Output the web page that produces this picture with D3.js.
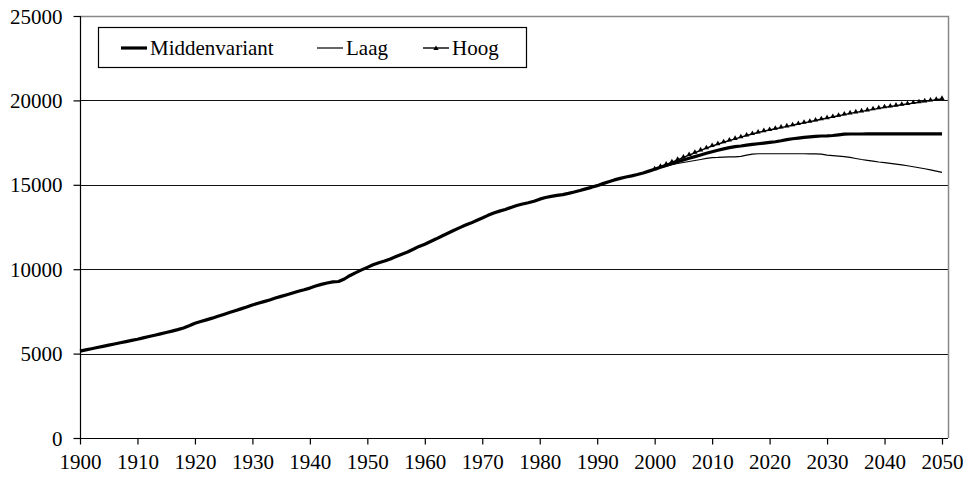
<!DOCTYPE html>
<html>
<head>
<meta charset="utf-8">
<script src="https://cdn.jsdelivr.net/npm/d3@7"></script>
<style>
  body { margin: 0; background: #fff; }
</style>
</head>
<body>
<svg id="chart"></svg>
<script>
// bevolking (x 1000), 1900-2050
const years = d3.range(1900, 2051)

const midden = [
  5150, 5220, 5290, 5360, 5430, 5500, 5570, 5640, 5710, 5780,
  5850, 5930, 6010, 6090, 6170, 6250, 6330, 6420, 6520, 6650,
  6800, 6900, 7000, 7100, 7210, 7320, 7430, 7540, 7650, 7760,
  7880, 7980, 8080, 8180, 8290, 8390, 8490, 8590, 8690, 8780,
  8880, 9000, 9100, 9180, 9250, 9270, 9420, 9630, 9800, 9960,
  10110, 10260, 10380, 10490, 10610, 10750, 10890, 11020, 11180, 11350,
  11480, 11640, 11800, 11970, 12130, 12290, 12450, 12600, 12730, 12880,
  13030, 13190, 13330, 13440, 13540, 13660, 13770, 13860, 13940, 14030,
  14150, 14250, 14310, 14370, 14420, 14490, 14570, 14660, 14760, 14850,
  14950, 15070, 15180, 15290, 15380, 15460, 15530, 15610, 15700, 15810,
  15920, 16040, 16150, 16260, 16370, 16470, 16570, 16670, 16770, 16870,
  16960, 17050, 17130, 17200, 17260, 17300, 17350, 17390, 17430, 17470,
  17510, 17550, 17610, 17680, 17730, 17770, 17810, 17840, 17870, 17890,
  17900, 17920, 17960, 18000, 18010, 18010, 18010, 18020, 18020, 18020,
  18020, 18020, 18020, 18020, 18020, 18020, 18020, 18020, 18020, 18020,
  18020
]

// varianten vanaf 2000
const laag = [
  15920, 16020, 16110, 16190, 16260, 16320, 16380, 16440, 16500, 16560,
  16610, 16620, 16640, 16650, 16660, 16680, 16760, 16820, 16840, 16840,
  16840, 16840, 16840, 16840, 16840, 16840, 16840, 16830, 16830, 16820,
  16760, 16730, 16700, 16670, 16620, 16560, 16500, 16450, 16400, 16350,
  16310, 16270, 16230, 16180, 16130, 16070, 16010, 15950, 15880, 15810,
  15740
]

const hoog = [
  15920, 16060, 16200, 16340, 16480, 16620, 16760, 16900, 17040, 17170,
  17300, 17410, 17520, 17620, 17720, 17820, 17920, 18010, 18100, 18180,
  18250, 18320, 18390, 18460, 18530, 18600, 18670, 18740, 18810, 18880,
  18950, 19020, 19090, 19160, 19230, 19290, 19350, 19410, 19470, 19530,
  19590, 19640, 19690, 19740, 19790, 19840, 19890, 19940, 19990, 20040,
  20090
]

const yTicks = [0, 5000, 10000, 15000, 20000, 25000]
const xTicks = [1900, 1910, 1920, 1930, 1940, 1950, 1960, 1970, 1980, 1990, 2000, 2010, 2020, 2030, 2040, 2050]

const width = 969
const height = 483
const plot = { left: 80, right: 948, top: 16, bottom: 438 }
const font = '"Liberation Serif"'

const svg = d3.select('#chart')
  .attr('width', width)
  .attr('height', height)

const x = d3.scaleLinear()
  .domain([1900, 2050])
  .range([80, 942])

const y = d3.scaleLinear()
  .domain([0, 25000])
  .range([plot.bottom, plot.top])

// gridlines
svg.selectAll('.grid')
  .data(yTicks.filter(d => d > 0 && d < 25000))
  .enter()
  .append('line')
  .attr('x1', plot.left)
  .attr('x2', plot.right)
  .attr('y1', d => Math.round(y(d)) + 0.5)
  .attr('y2', d => Math.round(y(d)) + 0.5)
  .attr('stroke', '#111')
  .attr('stroke-width', 1.2)

// plot border top/right (gray)
svg.append('path')
  .attr('d', `M${plot.left},${plot.top + 0.5}H${plot.right + 0.5}V${plot.bottom}`)
  .attr('fill', 'none')
  .attr('stroke', '#888')
  .attr('stroke-width', 1.5)

// axes
const yAxis = svg.append('g')
  .attr('transform', `translate(${plot.left + 0.5},0)`)
  .call(d3.axisLeft(y).tickValues(yTicks).tickSize(7).tickSizeOuter(0).tickPadding(11).tickFormat(d3.format('d')))

const xAxis = svg.append('g')
  .attr('transform', `translate(0,${plot.bottom + 0.5})`)
  .call(d3.axisBottom(x).tickValues(xTicks).tickSize(6).tickSizeOuter(0).tickPadding(10).tickFormat(d3.format('d')))

svg.selectAll('.domain, .tick line').attr('stroke', '#000').attr('stroke-width', 1.2)
yAxis.selectAll('.domain').attr('d', `M0,${plot.top}V${plot.bottom}`)
xAxis.selectAll('.domain').attr('d', `M${plot.left},0H${plot.right}`)
svg.selectAll('.tick text')
  .attr('fill', '#000')
  .style('font-family', font)
  .style('font-size', '21px')
yAxis.selectAll('.tick text').attr('dy', '0.34em')

const line = d3.line()
  .x(d => x(d.year))
  .y(d => y(d.value))

const toPoints = (arr, start) => arr.map((v, i) => ({ year: start + i, value: v }))

const middenPts = toPoints(midden, 1900)
const laagPts = toPoints(laag, 2000)
const hoogPts = toPoints(hoog, 2000)

svg.append('path')
  .datum(laagPts)
  .attr('d', line)
  .attr('fill', 'none')
  .attr('stroke', '#000')
  .attr('stroke-width', 1.2)

svg.append('path')
  .datum(hoogPts)
  .attr('d', line)
  .attr('fill', 'none')
  .attr('stroke', '#000')
  .attr('stroke-width', 1.4)

const tri = d3.symbol().type(d3.symbolTriangle).size(12)

svg.selectAll('.hoog-mark')
  .data(hoogPts)
  .enter()
  .append('path')
  .attr('d', tri)
  .attr('transform', d => `translate(${x(d.year)},${y(d.value) - 0.5})`)
  .attr('fill', '#000')

svg.append('path')
  .datum(middenPts)
  .attr('d', line)
  .attr('fill', 'none')
  .attr('stroke', '#000')
  .attr('stroke-width', 3.2)
  .attr('stroke-linejoin', 'round')

// legend
const legend = svg.append('g')

legend.append('rect')
  .attr('x', 98.5)
  .attr('y', 27.5)
  .attr('width', 428)
  .attr('height', 40)
  .attr('fill', '#fff')
  .attr('stroke', '#000')
  .attr('stroke-width', 1.2)

const legendItems = [
  { name: 'Middenvariant', x: 121, w: 3.2, mark: false },
  { name: 'Laag', x: 317, w: 1.2, mark: false },
  { name: 'Hoog', x: 423, w: 1.4, mark: true }
]

const ly = 48

legendItems.forEach(item => {
  legend.append('line')
    .attr('x1', item.x)
    .attr('x2', item.x + 26)
    .attr('y1', ly)
    .attr('y2', ly)
    .attr('stroke', '#000')
    .attr('stroke-width', item.w)
  if (item.mark) {
    legend.append('path')
      .attr('d', tri)
      .attr('transform', `translate(${item.x + 13},${ly + 0.5})`)
      .attr('fill', '#000')
  }
  legend.append('text')
    .attr('x', item.x + 29)
    .attr('y', ly + 7)
    .style('font-family', font)
    .style('font-size', '21px')
    .attr('fill', '#000')
    .text(item.name)
})
</script>
</body>
</html>
